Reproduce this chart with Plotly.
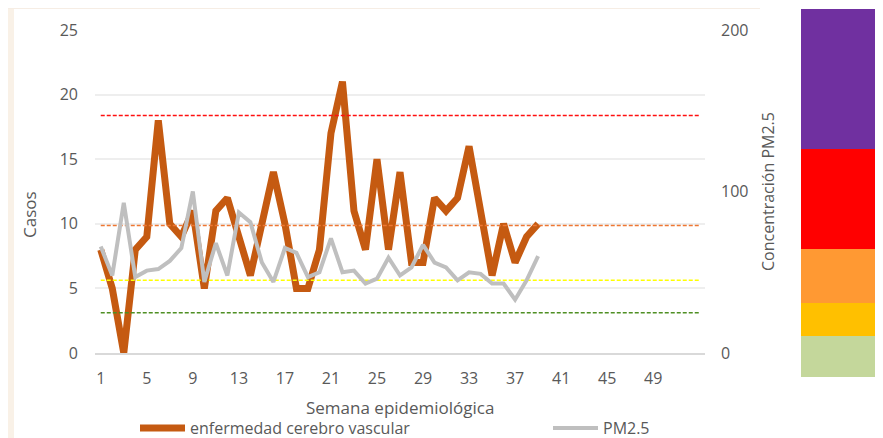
import plotly.graph_objects as go

# ---------------- data ----------------
weeks = list(range(1, 40))
ecv_cases = [8, 5, 0, 8, 9, 18, 10, 9, 11, 5, 11, 12, 9, 6, 10, 14, 10, 5, 5, 8,
             17, 21, 11, 8, 15, 8, 14, 7, 7, 12, 11, 12, 16, 11, 6, 10, 7, 9, 10]
pm25 = [66, 48, 93, 47, 51, 52, 57, 65, 100, 44, 68, 48, 87, 81, 56, 44, 65, 62, 47, 50,
        71, 50, 51, 43, 46, 59, 48, 53, 67, 56, 53, 45, 50, 49, 43, 43, 33, 45, 60]
threshold_weeks = [1, 53]
thresholds = [25, 45, 79, 147]
x_ticks = [1, 5, 9, 13, 17, 21, 25, 29, 33, 37, 41, 45, 49]
left_ticks = [0, 5, 10, 15, 20, 25]
right_ticks = [0, 100, 200]

series_names = ["enfermedad cerebro vascular", "PM2.5"]

# ---------------- styles / layout (page pixels) ----------------
OFF = 8                      # default body margin of the html page
PAGE_W, PAGE_H = 883, 438
W, H = PAGE_W - OFF, PAGE_H - OFF
PLOT_L, PLOT_R, PLOT_T, PLOT_B = 95, 705, 30, 353   # plot area in page pixels
L, R, T, B = PLOT_L - OFF, PAGE_W - PLOT_R, PLOT_T - OFF, PAGE_H - PLOT_B
PW, PH = PLOT_R - PLOT_L, PLOT_B - PLOT_T
FONT = "Open Sans"
TXT = "#595959"
threshold_colors = ["#4F8F23", "#FFFF00", "#EE7733", "#FF1010"]


def px_x(px):
    return (px - PLOT_L) / PW


def px_y(py):
    return (PLOT_B - py) / PH


fig = go.Figure()

# threshold dashed lines (right axis)
for val, col in zip(thresholds, threshold_colors):
    fig.add_trace(go.Scatter(
        x=threshold_weeks, y=[val, val], yaxis="y2", mode="lines",
        line=dict(color=col, width=1.5, dash="4px,2px"),
        showlegend=False, hoverinfo="skip"))

fig.add_trace(go.Scatter(
    x=weeks, y=pm25, yaxis="y2", mode="lines", name=series_names[1],
    line=dict(color="#BFBFBF", width=4), legend="legend2"))

fig.add_trace(go.Scatter(
    x=weeks, y=ecv_cases, mode="lines", name=series_names[0],
    line=dict(color="#C55A11", width=7), legend="legend"))

# decorative background / colour band (pixel positions)
shapes = [
    dict(type="rect", xref="paper", yref="paper", x0=px_x(0), x1=px_x(14),
         y0=px_y(440), y1=px_y(0), fillcolor="#F9F1E7", line_width=0, layer="below"),
    dict(type="rect", xref="paper", yref="paper", x0=px_x(0), x1=px_x(760),
         y0=px_y(9), y1=px_y(0), fillcolor="#F6EDE4", line_width=0, layer="below"),
]
band_px = [(9, 149, "#7030A0"), (149, 249, "#FF0000"), (249, 303, "#FF9933"),
           (303, 336, "#FFC000"), (336, 377, "#C4D79B")]
for top, bot, col in band_px:
    shapes.append(dict(type="rect", xref="paper", yref="paper",
                       x0=px_x(801), x1=px_x(884), y0=px_y(bot), y1=px_y(top),
                       fillcolor=col, line_width=0))

annotations = [
    dict(text="Casos", x=px_x(30), y=px_y(215), xref="paper", yref="paper",
         xanchor="center", yanchor="middle",
         showarrow=False, textangle=-90, font=dict(family=FONT, size=17, color=TXT)),
    dict(text="Concentración PM2.5", x=px_x(768), y=px_y(192), xref="paper", yref="paper",
         xanchor="center", yanchor="middle",
         showarrow=False, textangle=-90, font=dict(family=FONT, size=16, color=TXT)),
    dict(text="Semana epidemiológica", x=px_x(400), y=px_y(407), xref="paper", yref="paper",
         xanchor="center", yanchor="middle",
         showarrow=False, font=dict(family=FONT, size=17, color=TXT)),
]

legend_common = dict(orientation="h", xanchor="left", yanchor="middle",
                     itemwidth=45, font=dict(family=FONT, size=16, color=TXT),
                     bgcolor="rgba(0,0,0,0)")

fig.update_layout(
    width=W, height=H,
    margin=dict(l=L, r=R, t=T, b=B, autoexpand=False),
    paper_bgcolor="white", plot_bgcolor="white",
    font=dict(family=FONT, size=16, color=TXT),
    shapes=shapes, annotations=annotations,
    xaxis=dict(range=[0.5, 53.5], tickmode="array", tickvals=x_ticks,
               ticktext=[str(t) for t in x_ticks], showgrid=False, zeroline=False,
               showline=True, linecolor="#D9D9D9", linewidth=1.5, ticks="",
               ticklabelstandoff=10, tickfont=dict(size=16, color=TXT)),
    yaxis=dict(range=[0, 25], tickmode="array", tickvals=left_ticks,
               showgrid=True, gridcolor="#EEEEEE", gridwidth=1.5, zeroline=False,
               ticks="", ticklabelstandoff=16, tickfont=dict(size=16, color=TXT)),
    yaxis2=dict(range=[0, 200], overlaying="y", side="right", tickmode="array",
                tickvals=right_ticks, showgrid=False, zeroline=False, ticks="",
                ticklabelstandoff=15, tickfont=dict(size=16, color=TXT)),
    legend=dict(x=px_x(135), y=px_y(428), **legend_common),
    legend2=dict(x=px_x(548), y=px_y(428), **legend_common),
    showlegend=True,
)

fig.write_html("out.html")
